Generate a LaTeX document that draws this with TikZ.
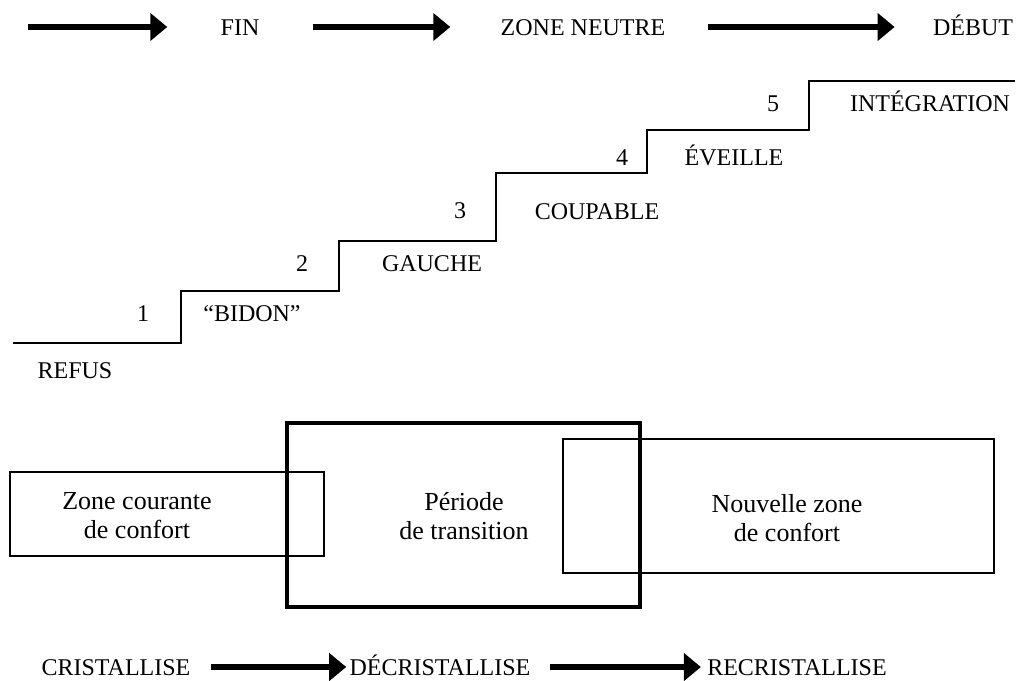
\documentclass[tikz,border=0pt]{standalone}
\usepackage{fontspec}
\setmainfont{Liberation Serif}
\usetikzlibrary{arrows.meta}
\begin{document}
\begin{tikzpicture}[x=0.5pt,y=-0.5pt,
  lbl/.style={inner sep=0pt, text height=8pt, text depth=0pt, font=\fontsize{12}{14}\selectfont},
  boxtxt/.style={inner sep=0pt, align=center, font=\fontsize{13}{14.5}\selectfont},
  bigarrow/.style={line width=2.6pt, -{Triangle[length=8.5pt,width=13.5pt]}},
  stairline/.style={line width=1.1pt},
  thinbox/.style={draw, line width=1pt, inner sep=0pt},
  thickbox/.style={draw, line width=2.1pt, inner sep=0pt}]
\useasboundingbox (0,0) rectangle (1022,680);

% top row: end -> neutral zone -> beginning
\coordinate (s0) at (28,27);
\node[lbl] (fin) at (240,27) {FIN};
\node[lbl] (zn)  at (583,27) {ZONE NEUTRE};
\node[lbl] (deb) at (973,27) {DÉBUT};
\draw[bigarrow, shorten >=26.5pt] (s0) -- (fin);
\draw[bigarrow, shorten <=26.5pt, shorten >=25pt] (fin) -- (zn);
\draw[bigarrow, shorten <=21pt, shorten >=19pt] (zn) -- (deb);

% staircase
\draw[stairline] (13,343) -| (181,291) -| (339,241) -| (496,173)
  -| (647,130) -| (809,81) -- (1015,81);

\node[lbl] (r0) at (75,370) {REFUS};
\node[lbl] (n1) at (143,313) {1};
\node[lbl] (r1) at (252,313) {“BIDON”};
\node[lbl] (n2) at (302,263) {2};
\node[lbl] (r2) at (432,263) {GAUCHE};
\node[lbl] (n3) at (460,210) {3};
\node[lbl] (r3) at (597,211) {COUPABLE};
\node[lbl] (n4) at (622,157) {4};
\node[lbl] (r4) at (734,157) {ÉVEILLE};
\node[lbl] (n5) at (773,103) {5};
\node[lbl] (r5) at (930,103) {INTÉGRATION};

% comfort zones and transition
\node[thinbox, minimum width=157pt, minimum height=42pt] (zc) at (167,514) {};
\node[thinbox, minimum width=215.5pt, minimum height=67pt] (nz) at (778.5,506) {};
\node[thickbox, minimum width=176.5pt, minimum height=92pt] (pt) at (463.5,515) {};
\node[boxtxt] (zct) at (137,516) {Zone courante\\de confort};
\node[boxtxt] (ptt) at (464,516) {Période\\de transition};
\node[boxtxt] (nzt) at (787,518) {Nouvelle zone\\de confort};

% bottom row
\node[lbl] (cr)  at (116,667) {CRISTALLISE};
\node[lbl] (dcr) at (440,667) {DÉCRISTALLISE};
\node[lbl] (rcr) at (797,667) {RECRISTALLISE};
\draw[bigarrow, shorten <=10pt, shorten >=1.5pt] (cr) -- (dcr);
\draw[bigarrow, shorten <=9.5pt, shorten >=3pt] (dcr) -- (rcr);
\end{tikzpicture}
\end{document}
